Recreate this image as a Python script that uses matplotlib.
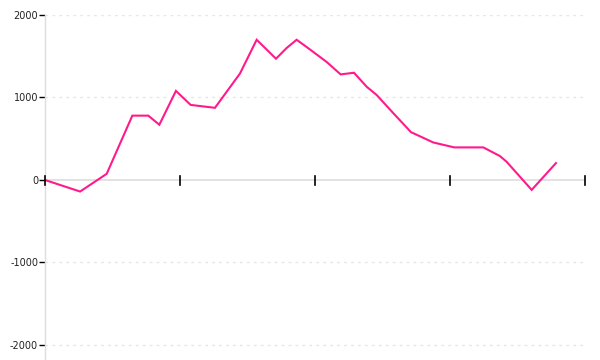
import numpy as np
import matplotlib
matplotlib.use('Agg')
import matplotlib.pyplot as plt

# ---------------- donnees ----------------
# x en "unites de graduation" (graduations a 0,1,2,3,4)
pos_x = [0.0, 0.26, 0.457, 0.647, 0.765, 0.847, 0.97, 1.079, 1.259, 1.444,
         1.568, 1.711, 1.79, 1.864, 1.948, 2.087, 2.19, 2.289, 2.383, 2.457,
         2.58, 2.711, 2.876, 3.032, 3.247, 3.37, 3.42, 3.605, 3.785]
valeurs = [0, -140, 75, 780, 780, 670, 1080, 910, 875, 1290,
           1700, 1470, 1600, 1700, 1600, 1430, 1280, 1300, 1130, 1030,
           810, 580, 455, 395, 395, 290, 220, -120, 205]
graduations_x = [0, 1, 2, 3, 4]
graduations_y = [-2000, -1000, 0, 1000, 2000]

rose = '#ff1a8c'
gris = '#dddddd'

plt.rcParams['axes.unicode_minus'] = False

fig = plt.figure(figsize=(6, 3.6), dpi=100)
ax = fig.add_axes([0.075, 0.0, 0.9, 1 - 15 / 360.])

ax.plot(pos_x, valeurs, color=rose, lw=1.5, solid_joinstyle='miter', zorder=3)

ax.set_xlim(0, 4)
ax.set_ylim(-2182, 2000)

# lignes de grille pointillees
for g in graduations_y:
    if g != 0:
        ax.axhline(g, color='#e6e6e6', lw=1, ls=(0, (2, 3)), zorder=1)

for s in ['top', 'right', 'bottom']:
    ax.spines[s].set_visible(False)
ax.spines['left'].set_color(gris)
ax.spines['left'].set_linewidth(1)

# axe des x sur la ligne zero
ax.axhline(0, color=gris, lw=1.2, zorder=2)

ax.set_xticks(graduations_x)
ax.set_xticklabels([])
ax.tick_params(axis='x', bottom=False)
for xv in graduations_x:
    ax.plot([xv, xv], [-65, 45], color='black', lw=1.2, zorder=4, clip_on=False)

ax.set_yticks(graduations_y)
ax.set_yticklabels([str(v) for v in graduations_y])
ax.tick_params(axis='y', direction='out', length=4.5, width=1, color='black',
               labelsize=7, labelcolor='#222222', pad=0.5)

fig.savefig('out.png', dpi=100)
